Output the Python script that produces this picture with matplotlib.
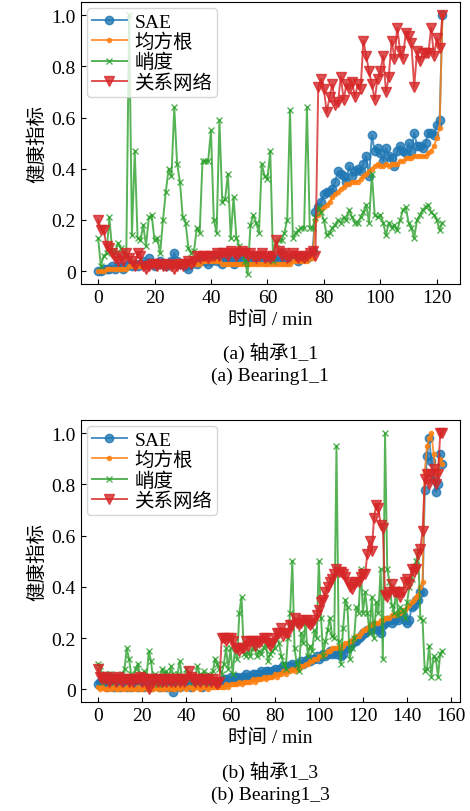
import numpy as np
import matplotlib
matplotlib.use("Agg")
import matplotlib.pyplot as plt
from matplotlib.ticker import FuncFormatter

plt.rcParams['font.family'] = ['Liberation Serif', 'Noto Sans CJK SC']
plt.rcParams['font.size'] = 14

labels = ['SAE', '均方根', '峭度', '关系网络']

# Bearing1_1 (minutes 0..122)
sae_11 = [0.00, 0.00, 0.01, 0.01, 0.01, 0.02, 0.01, 0.02, 0.02, 0.01,
          0.02, 0.03, 0.02, 0.03, 0.02, 0.03, 0.04, 0.03, 0.05, 0.03,
          0.02, 0.03, 0.04, 0.03, 0.02, 0.03, 0.04, 0.07, 0.04, 0.03,
          0.03, 0.02, 0.01, 0.03, 0.04, 0.03, 0.04, 0.05, 0.04, 0.03,
          0.04, 0.05, 0.04, 0.05, 0.03, 0.04, 0.05, 0.04, 0.03, 0.04,
          0.05, 0.04, 0.06, 0.05, 0.04, 0.05, 0.04, 0.06, 0.05, 0.04,
          0.05, 0.06, 0.05, 0.04, 0.05, 0.07, 0.05, 0.04, 0.05, 0.06,
          0.05, 0.04, 0.05, 0.06, 0.05, 0.06, 0.08,
          0.23, 0.25, 0.27, 0.30, 0.31, 0.31, 0.32, 0.35, 0.39, 0.38,
          0.37, 0.35, 0.41, 0.37, 0.39, 0.40, 0.39, 0.42, 0.45, 0.37,
          0.53, 0.47, 0.48, 0.46, 0.43, 0.48, 0.45, 0.44, 0.41, 0.47,
          0.49, 0.47, 0.46, 0.50, 0.47, 0.54, 0.49, 0.49, 0.48, 0.50,
          0.54, 0.54, 0.53, 0.57, 0.59, 1.00]
rms_11 = [0.00, 0.00, 0.00, 0.01, 0.01, 0.01, 0.01, 0.01, 0.01, 0.01,
          0.01, 0.02, 0.02, 0.02, 0.02, 0.02, 0.02, 0.02, 0.03, 0.03,
          0.03, 0.03, 0.03, 0.03, 0.03, 0.03, 0.03, 0.03, 0.04, 0.04,
          0.03, 0.03, 0.03, 0.03, 0.03, 0.03, 0.03, 0.04, 0.04, 0.04,
          0.04, 0.04, 0.04, 0.04, 0.03, 0.03, 0.03, 0.03, 0.03, 0.03,
          0.03, 0.03, 0.03, 0.03, 0.03, 0.03, 0.03, 0.03, 0.03, 0.03,
          0.03, 0.03, 0.03, 0.03, 0.03, 0.03, 0.03, 0.03, 0.03, 0.04,
          0.04, 0.04, 0.04, 0.04, 0.04, 0.05, 0.05,
          0.20, 0.22, 0.24, 0.25, 0.26, 0.27, 0.29, 0.30, 0.31, 0.32,
          0.33, 0.34, 0.34, 0.35, 0.35, 0.35, 0.36, 0.37, 0.38, 0.39,
          0.40, 0.41, 0.42, 0.41, 0.41, 0.42, 0.41, 0.42, 0.42, 0.42,
          0.43, 0.43, 0.44, 0.44, 0.44, 0.45, 0.45, 0.45, 0.45, 0.45,
          0.46, 0.47, 0.49, 0.52, 0.56, 1.00]
kurt_11 = [0.13, 0.02, 0.06, 0.07, 0.21, 0.08, 0.07, 0.11, 0.09, 0.07,
           0.06, 1.00, 0.14, 0.47, 0.13, 0.12, 0.18, 0.10, 0.21, 0.22,
           0.12, 0.13, 0.07, 0.20, 0.31, 0.40, 0.37, 0.64, 0.42, 0.35,
           0.21, 0.19, 0.09, 0.07, 0.08, 0.17, 0.15, 0.43, 0.43, 0.43,
           0.55, 0.20, 0.15, 0.59, 0.27, 0.28, 0.38, 0.13, 0.29, 0.13,
           0.10, 0.07, 0.04, -0.01, 0.18, 0.22, 0.19, 0.15, 0.42, 0.37,
           0.36, 0.47, 0.04, 0.11, 0.12, 0.12, 0.15, 0.20, 0.63, 0.13,
           0.15, 0.16, 0.17, 0.17, 0.64, 0.17, 0.17, 0.21, 0.25, 0.23,
           0.20, 0.14, 0.15, 0.17, 0.18, 0.20, 0.19, 0.21, 0.20, 0.24,
           0.21, 0.19, 0.19, 0.21, 0.23, 0.26, 0.19, 0.38, 0.22, 0.21,
           0.22, 0.19, 0.14, 0.19, 0.17, 0.18, 0.16, 0.20, 0.24, 0.25,
           0.19, 0.17, 0.13, 0.20, 0.22, 0.24, 0.25, 0.26, 0.23, 0.22,
           0.20, 0.16, 0.19]
net_11 = [0.20, 0.16, 0.16, 0.10, 0.09, 0.07, 0.05, 0.04, 0.06, 0.04,
          0.07, 0.05, 0.04, 0.02, 0.07, 0.06, 0.02, 0.01, 0.02, 0.03,
          0.03, 0.02, 0.03, 0.02, 0.02, 0.03, 0.02, 0.01, 0.02, 0.03,
          0.02, 0.03, 0.04, 0.03, 0.04, 0.06, 0.05, 0.06, 0.06, 0.05,
          0.06, 0.06, 0.07, 0.06, 0.07, 0.07, 0.06, 0.08, 0.07, 0.06,
          0.07, 0.08, 0.07, 0.06, 0.07, 0.06, 0.05, 0.06, 0.07, 0.05,
          0.06, 0.05, 0.06, 0.12, 0.08, 0.06, 0.07, 0.05, 0.06, 0.07,
          0.06, 0.05, 0.06, 0.05, 0.06, 0.07, 0.08, 0.06,
          0.72, 0.75, 0.71, 0.62, 0.68, 0.73, 0.65, 0.66, 0.76, 0.67,
          0.73, 0.71, 0.74, 0.68, 0.73, 0.71, 0.90, 0.84, 0.78, 0.73,
          0.67, 0.75, 0.78, 0.84, 0.70, 0.76, 0.90, 0.83, 0.95, 0.86,
          0.83, 0.93, 0.92, 0.89, 0.72, 0.86, 0.82, 0.85, 0.85, 0.85,
          0.95, 0.84, 0.91, 0.87, 1.00]

# Bearing1_3 (minutes 0..156)
sae_13 = [0.02, 0.03, 0.02, 0.02, 0.01, 0.02, 0.02, 0.01, 0.02, 0.02,
          0.01, 0.02, 0.02, 0.01, 0.02, 0.01, 0.02, 0.02, 0.01, 0.02,
          0.02, 0.01, 0.02, 0.02, 0.01, 0.02, 0.02, 0.02, 0.01, 0.02,
          0.02, 0.01, 0.02, 0.01, -0.01, 0.02, 0.02, 0.01, 0.02, 0.02,
          0.02, 0.02, 0.01, 0.02, 0.02, 0.02, 0.02, 0.01, 0.02, 0.02,
          0.02, 0.02, 0.02, 0.03, 0.02, 0.03,
          0.03, 0.04, 0.04, 0.03, 0.05, 0.04, 0.05, 0.05, 0.04, 0.05,
          0.05, 0.06, 0.05, 0.05, 0.06, 0.06, 0.05, 0.06, 0.07, 0.06,
          0.07, 0.07, 0.06, 0.07, 0.08, 0.07, 0.08, 0.08, 0.09, 0.08,
          0.09, 0.09, 0.10, 0.09, 0.10, 0.10, 0.11, 0.10, 0.11, 0.12,
          0.11, 0.12, 0.12, 0.13, 0.12, 0.13, 0.14, 0.13, 0.14, 0.15,
          0.14, 0.15,
          0.14, 0.15, 0.13, 0.14, 0.16, 0.16, 0.17, 0.18, 0.19, 0.19,
          0.20, 0.21, 0.22, 0.22, 0.23, 0.23, 0.24, 0.25, 0.24, 0.23,
          0.22, 0.25, 0.26, 0.27, 0.27, 0.26, 0.27, 0.28, 0.27, 0.29,
          0.29, 0.27, 0.26, 0.27, 0.32, 0.33, 0.35, 0.35, 0.38,
          0.38, 0.78, 0.91, 0.98, 0.89, 0.82, 0.77, 0.80, 0.92, 0.88]
rms_13 = [0.01, 0.00, 0.01, 0.00, 0.00, 0.01, 0.00, 0.01, 0.00, 0.00,
          0.01, 0.00, 0.00, 0.01, 0.00, 0.01, 0.00, 0.00, 0.01, 0.00,
          0.00, 0.01, 0.00, 0.01, 0.00, 0.00, 0.01, 0.00, 0.01, 0.00,
          0.00, 0.01, 0.00, 0.01, 0.00, 0.00, 0.01, 0.00, 0.01, 0.01,
          0.00, 0.01, 0.01, 0.00, 0.01, 0.01, 0.00, 0.01, 0.01, 0.01,
          0.00, 0.01, 0.01, 0.01, 0.01, 0.01,
          0.01, 0.01, 0.02, 0.01, 0.02, 0.02, 0.02, 0.02, 0.03, 0.02,
          0.03, 0.03, 0.03, 0.03, 0.04, 0.03, 0.04, 0.04, 0.04, 0.05,
          0.04, 0.05, 0.05, 0.05, 0.06, 0.05, 0.06, 0.06, 0.07, 0.06,
          0.07, 0.07, 0.08, 0.07, 0.08, 0.08, 0.09, 0.09, 0.10, 0.10,
          0.11, 0.11, 0.12, 0.12, 0.13, 0.13, 0.14, 0.14, 0.15, 0.15,
          0.16, 0.16,
          0.16, 0.17, 0.16, 0.17, 0.18, 0.18, 0.19, 0.19, 0.20, 0.21,
          0.21, 0.22, 0.23, 0.23, 0.24, 0.25, 0.25, 0.26, 0.26, 0.26,
          0.27, 0.27, 0.28, 0.28, 0.28, 0.29, 0.29, 0.29, 0.30, 0.30,
          0.31, 0.31, 0.32, 0.33, 0.34, 0.35, 0.36, 0.37, 0.40,
          0.42, 0.85, 0.95, 0.98, 1.00, 0.92, 0.84, 0.85, 0.90, 0.88]
kurt_13 = [0.10, 0.09, 0.03, 0.06, 0.04, 0.06, 0.06, 0.03, 0.05, 0.04,
           0.05, 0.06, 0.08, 0.16, 0.12, 0.06, 0.05, 0.08, 0.10, 0.05,
           0.06, 0.07, 0.05, 0.15, 0.11, 0.03, 0.06, 0.02, 0.04, 0.08,
           0.06, 0.07, 0.04, 0.09, 0.06, 0.03, 0.06, 0.11, 0.05, 0.04,
           0.08, 0.06, 0.04, 0.03, 0.05, 0.09, 0.06, 0.04, 0.07, 0.03,
           0.06, 0.05, 0.07, 0.12, 0.10, 0.08,
           0.06, 0.10, 0.16, 0.08, 0.16, 0.06, 0.16, 0.12, 0.30, 0.36,
           0.14, 0.13, 0.15, 0.13, 0.16, 0.16, 0.13, 0.15, 0.14, 0.16,
           0.18, 0.11, 0.14, 0.15, 0.16, 0.22, 0.18, 0.13, 0.10, 0.08,
           0.20, 0.30, 0.50, 0.16, 0.10, 0.07, 0.22, 0.18, 0.26, 0.13,
           0.17, 0.15, 0.23, 0.20, 0.50, 0.28, 0.13, 0.19, 0.23, 0.28,
           0.21, 0.20,
           0.95, 0.19, 0.10, 0.24, 0.35, 0.32, 0.12, 0.16, 0.20, 0.32,
           0.30, 0.47, 0.30, 0.38, 0.30, 0.22, 0.36, 0.20, 0.34, 0.30,
           0.47, 0.12, 1.00, 0.47, 0.42, 0.33, 0.30, 0.39, 0.29, 0.32,
           0.31, 0.28, 0.34, 0.40, 0.43, 0.47, 0.50, 0.54, 0.28,
           0.27, 0.07, 0.08, 0.17, 0.05, 0.13, 0.12, 0.05, 0.14, 0.15]
net_13 = [0.08, 0.05, 0.04, 0.04, 0.05, 0.03, 0.04, 0.04, 0.03, 0.05,
          0.04, 0.03, 0.04, 0.04, 0.03, 0.04, 0.03, 0.04, 0.04, 0.05,
          0.03, 0.04, 0.04, 0.00, 0.04, 0.03, 0.04, 0.03, 0.04, 0.03,
          0.04, 0.03, 0.04, 0.03, 0.04, 0.03, 0.04, 0.03, 0.04, 0.03,
          0.04, 0.07, 0.05, 0.04, 0.03, 0.04, 0.03, 0.04, 0.04, 0.03,
          0.04, 0.03, 0.04, 0.03, 0.02, 0.03,
          0.20, 0.20, 0.19, 0.20, 0.20, 0.19, 0.16, 0.16, 0.15, 0.16,
          0.16, 0.19, 0.17, 0.19, 0.19, 0.17, 0.19, 0.18, 0.19, 0.20,
          0.20, 0.18, 0.17, 0.18, 0.20, 0.22, 0.22, 0.24, 0.21, 0.22,
          0.22, 0.25, 0.25, 0.28, 0.26, 0.25, 0.26, 0.27, 0.27, 0.26,
          0.25, 0.26, 0.27, 0.29, 0.31, 0.34, 0.35, 0.38, 0.40, 0.42,
          0.43, 0.45,
          0.47, 0.46, 0.46, 0.45, 0.44, 0.42, 0.40, 0.39, 0.41, 0.42,
          0.42, 0.44, 0.45, 0.45, 0.53, 0.58, 0.54, 0.67, 0.72, 0.71,
          0.64, 0.63, 0.37, 0.36, 0.38, 0.41, 0.38, 0.38, 0.38, 0.36,
          0.38, 0.42, 0.43, 0.41, 0.47, 0.46, 0.47, 0.53, 0.55,
          0.62, 0.82, 0.84, 0.80, 0.84, 0.86, 0.80, 0.84, 1.00, 1.00]

styles = [dict(color='C0', marker='o', ms=6),
          dict(color='C1', marker='.', ms=6),
          dict(color='C2', marker='x', ms=5, mew=1.0),
          dict(color='C3', marker='v', ms=7)]


def draw(ax, series, caption_cn, caption_en, cap_y):
    for vals, lab, st in zip(series, labels, styles):
        ax.plot(np.arange(len(vals)), vals, label=lab, lw=1.4, alpha=0.8, **st)
    ax.set_ylim(-0.05, 1.05)
    ax.set_yticks([0, 0.2, 0.4, 0.6, 0.8, 1.0])
    ax.yaxis.set_major_formatter(FuncFormatter(lambda v, p: '0' if abs(v) < 1e-9 else f'{v:.1f}'))
    ax.tick_params(direction='in', labelsize=14)
    ax.set_xlabel('时间 / min', fontsize=14, labelpad=3)
    ax.set_ylabel('健康指标', fontsize=14)
    ax.legend(loc='upper left', fontsize=14, handlelength=1.8, handletextpad=0.4,
              borderpad=0.25, labelspacing=0.1, borderaxespad=0.3)
    fig.text(0.575, cap_y, caption_cn, ha='center', va='center', fontsize=14)
    fig.text(0.575, cap_y - 0.029, caption_en, ha='center', va='center', fontsize=14)


fig = plt.figure(figsize=(4.7, 8.12), dpi=100)
ax1 = fig.add_axes([0.172, 0.649, 0.806, 0.347])
ax2 = fig.add_axes([0.172, 0.134, 0.806, 0.347])
draw(ax1, [sae_11, rms_11, kurt_11, net_11], '(a) 轴承1_1', '(a) Bearing1_1', 1 - 353 / 812)
draw(ax2, [sae_13, rms_13, kurt_13, net_13], '(b) 轴承1_3', '(b) Bearing1_3', 1 - 772 / 812)
ax1.set_xticks(range(0, 121, 20))
ax2.set_xticks(range(0, 161, 20))

fig.savefig('out.png', dpi=100)
